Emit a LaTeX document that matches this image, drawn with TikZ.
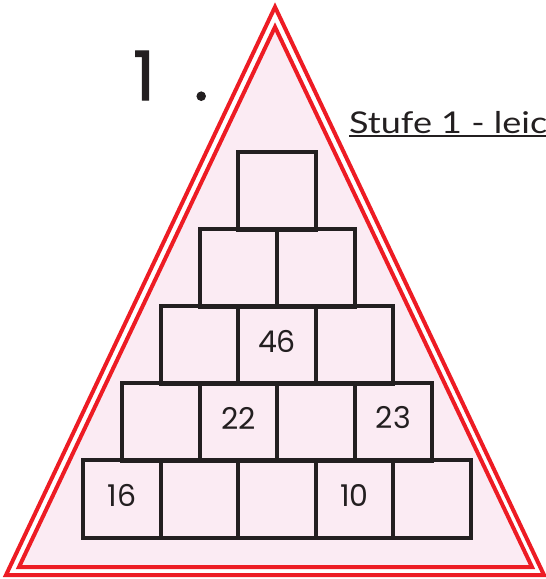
\documentclass[tikz,border=0pt]{standalone}
\usepackage{fontspec}
\setmainfont{Poppins}
\newfontfamily\numfont{Poppins}[FakeBold=1.6]
\newfontfamily\handfont{Lato}[FakeStretch=1.2]
\usetikzlibrary{positioning}
\definecolor{signred}{HTML}{ED1C24}
\definecolor{signpink}{HTML}{FBEBF3}
\definecolor{inkblack}{HTML}{231F20}
\tikzset{
  cell/.style={rectangle,draw=inkblack,line width=4pt,minimum size=77.5pt,inner sep=0pt},
  given/.style={inner sep=0pt,text=inkblack,font=\fontsize{30}{30}\selectfont,yshift=4pt},
  border/.style={draw=signred,line width=4pt,line join=miter}
}
\begin{document}
\begin{tikzpicture}[x=1pt,y=-1pt]
\useasboundingbox (0,0) rectangle (546,579);
\path[border] (275,7) -- (6,575) -- (544,575) -- cycle;
\path[border,fill=signpink] (275,27) -- (19,567) -- (532,567) -- cycle;
% Zahlenmauer
\foreach \r in {1,...,5}
  \foreach \i in {1,...,\r}
    \node[cell] (c\r\i) at ({277+(\i-(\r+1)/2)*77.5},{191+(\r-1)*77}) {};
\node[given] (n46) at (c32) {46};
\node[given] (n22) at (c42) {22};
\node[given] (n23) at (c44) {23};
\node[given] (n16) at (c51) {16};
\node[given] (n10) at (c54) {10};
\node[inner sep=0pt,anchor=base west,text=inkblack,font=\numfont\fontsize{68}{68}\selectfont] (num) at (133,100) {1 \hspace{21pt}.};
\node[inner sep=0pt,anchor=base west,text=inkblack,font=\handfont\fontsize{30}{30}\selectfont] (lvl) at (349,133) {Stufe 1 - leic};
\draw[inkblack,line width=2pt] ([yshift=-3pt]lvl.base west) -- ([yshift=-3pt]lvl.base east);
\end{tikzpicture}
\end{document}
